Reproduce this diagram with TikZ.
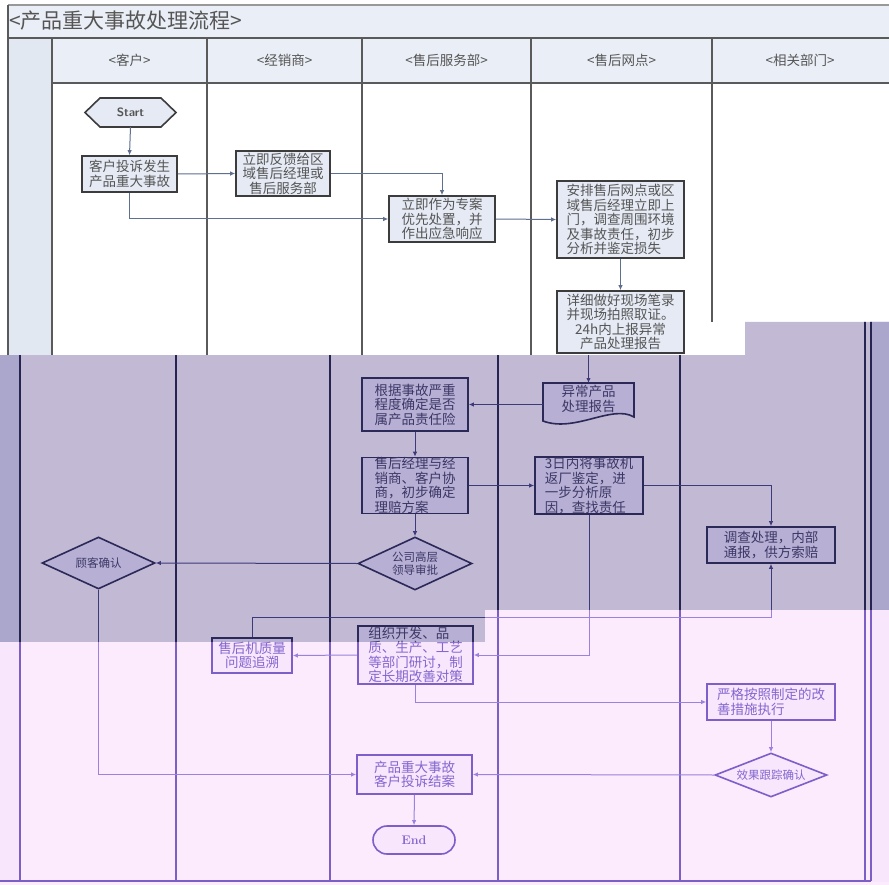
\documentclass[tikz,border=0pt]{standalone}
\usepackage{fontspec}
\newfontfamily\cjk{Noto Sans CJK SC}
\usetikzlibrary{shapes.geometric,arrows.meta}
% upper (original) colours
\definecolor{hdrfill}{HTML}{EAEEF6}
\definecolor{colfill}{HTML}{E2E8F2}
\definecolor{upframe}{HTML}{5A5A5A}
\definecolor{upnodec}{HTML}{3C3C3C}
\definecolor{upnodef}{HTML}{E5EAF4}
\definecolor{upconnc}{HTML}{5E6F8F}
\definecolor{uptextc}{HTML}{555555}
% purple band colours
\definecolor{pbg}{HTML}{C2B9D4}
\definecolor{pcol}{HTML}{ABA6CB}
\definecolor{planec}{HTML}{262450}
\definecolor{pnodec}{HTML}{2B2957}
\definecolor{pnodef}{HTML}{B7B0D4}
\definecolor{pconnc}{HTML}{3D3A7A}
\definecolor{ptextc}{HTML}{3B3766}
% pink band colours
\definecolor{kbg}{HTML}{FCEBFD}
\definecolor{kcol}{HTML}{F8E6FC}
\definecolor{klanec}{HTML}{7B5FC6}
\definecolor{knodec}{HTML}{7C5FC9}
\definecolor{knodef}{HTML}{F7E6FC}
\definecolor{kconnc}{HTML}{9B82E0}
\definecolor{ktextc}{HTML}{8466CF}
\colorlet{nodec}{upnodec}
\colorlet{nodef}{upnodef}
\colorlet{connc}{upconnc}
\colorlet{textc}{uptextc}
\colorlet{lanec}{upframe}
\colorlet{colc}{colfill}
\tikzset{
  box/.style={draw=nodec, fill=nodef, line width=1.6pt, text=textc,
    font=\cjk\fontsize{13.5}{14.5}\selectfont, align=center, inner sep=0pt},
  boxl/.style={box, align=left},
  dia/.style={diamond, draw=nodec, fill=nodef, line width=1.6pt, inner sep=0pt},
  diatext/.style={text=textc, font=\cjk\fontsize{11.5}{13.5}\selectfont, align=center},
  conn/.style={draw=connc, line width=1pt, -{Latex[length=5pt,width=4.5pt]}},
  plain/.style={draw=connc, line width=1pt},
  lane/.style={draw=lanec, line width=2pt},
  hdr/.style={text=uptextc, font=\cjk\fontsize{13.5}{15}\selectfont},
}
\newcommand\lowerpart{%
  \fill[colc] (0,300) rectangle (20,882);
  \fill[colc] (871,300) rectangle (889,882);
  \foreach \xx in {20,176,330,498,680,865,871} {\draw[lane] (\xx,300) -- (\xx,881);}
  \draw[lane] (0,881) -- (871,881);
  % document shape
  \draw[draw=nodec, fill=nodef, line width=1.6pt] (543,383) -- (634,383) -- (634,417)
     .. controls (612,404) and (575,433) .. (543,421) -- cycle;
  \node[text=textc, font=\cjk\fontsize{13.5}{14.5}\selectfont, align=center,
        minimum width=91, minimum height=36, inner sep=0pt] (doc) at (588.5,399) {异常产品\\处理报告};
  \node[box, minimum width=106, minimum height=53] (b1) at (415,404.5) {根据事故严重\\程度确定是否\\属产品责任险};
  \node[boxl, minimum width=106, minimum height=55] (b2) at (415,485.5) {售后经理与经\\销商、客户协\\商，初步确定\\理赔方案};
  \node[boxl, minimum width=108, minimum height=57] (b3) at (589,485.5) {3日内将事故机\\返厂鉴定，进\\一步分析原\\因，查找责任};
  \node[box, minimum width=128, minimum height=36] (r1) at (771,545) {调查处理，内部\\通报，供方索赔};
  \node[dia, minimum width=114, minimum height=53, label={[diatext]center:{公司高层\\领导审批}}] (q1) at (415,563.5) {};
  \node[dia, minimum width=113, minimum height=52, label={[diatext]center:{顾客确认}}] (q2) at (98.5,563) {};
  \node[box, minimum width=80, minimum height=35] (b4) at (252,655.5) {售后机质量\\问题追溯};
  \node[boxl, minimum width=115, minimum height=58] (b5) at (415.5,655) {组织开发、品\\质、生产、工艺\\等部门研讨，制\\定长期改善对策};
  \node[boxl, minimum width=128, minimum height=36] (b6) at (771,702) {严格按照制定的改\\善措施执行};
  \node[dia, minimum width=112, minimum height=44, label={[diatext]center:{效果跟踪确认}}] (q3) at (771,775) {};
  \node[box, minimum width=115, minimum height=39] (b7) at (414.5,774.5) {产品重大事故\\客户投诉结案};
  \node[draw=nodec, fill=nodef, line width=1.6pt, rounded corners=14pt, minimum width=82,
        minimum height=28, inner sep=0pt, text=textc, font=\bfseries\fontsize{12.5}{14}\selectfont] (endn) at (414,840) {End};
  % connectors
  \coordinate (dtop) at (588.5,350);
  \coordinate (w1) at (252,617);
  \draw[conn] (dtop) -- (doc.north |- 0,383);
  \draw[conn] (doc.west |- b1.east) -- (b1.east);
  \draw[conn] (b1.south) -- (b2.north);
  \draw[conn] (b2.east) -- (b3.west);
  \draw[conn] (b3.east) -| (r1.north);
  \draw[conn] (b2.south) -- (q1.north);
  \draw[conn] (q1.west) -- (q2.east);
  \draw[conn] (q2.south) |- (b7.west);
  \draw[conn] (b3.south) |- (b5.east);
  \draw[conn] (b5.west) -- (b4.east);
  \draw[conn] (b4.north) -- (w1) -| (r1.south);
  \draw[conn] (b5.south) |- (b6.west);
  \draw[conn] (b6.south) -- (q3.north);
  \draw[conn] (q3.west) -- (b7.east);
  \draw[conn] (b7.south) -- (endn.north);
}
\begin{document}
\begin{tikzpicture}[x=1pt,y=-1pt]
\useasboundingbox (0,0) rectangle (889,885);
\fill[white] (0,0) rectangle (889,885);
% ---------------- upper (undamaged) part ----------------
\begin{scope}
\clip (0,0) -- (889,0) -- (889,322) -- (745,322) -- (745,355) -- (0,355) -- cycle;
\fill[hdrfill] (8,5) rectangle (889,83);
\fill[colfill] (8,38) rectangle (52,360);
\draw[lane, line width=1.6pt, draw=gray!80] (8,5) -- (889,5);
\draw[lane] (8,5) -- (8,360);
\draw[lane] (8,38) -- (889,38);
\draw[lane] (52,83) -- (889,83);
\foreach \xx in {52,207,362,531} {\draw[lane] (\xx,38) -- (\xx,360);}
\draw[lane] (712,38) -- (712,322);
\node[anchor=west, text=uptextc, font=\cjk\fontsize{21}{23}\selectfont, inner sep=0pt] (title) at (9,21) {<产品重大事故处理流程>};
\node[hdr] (h1) at (129.5,60.5) {<客户>};
\node[hdr] (h2) at (284.5,60.5) {<经销商>};
\node[hdr] (h3) at (446.5,60.5) {<售后服务部>};
\node[hdr] (h4) at (621.5,60.5) {<售后网点>};
\node[hdr] (h5) at (800,60.5) {<相关部门>};
% start terminal (hexagon)
\draw[draw=nodec, fill=nodef, line width=1.6pt] (85,112.5) -- (100,98) -- (161,98) -- (176,112.5) -- (161,127) -- (100,127) -- cycle;
\node[minimum width=91, minimum height=29, inner sep=0pt, text=textc, font=\sffamily\bfseries\fontsize{12}{13}\selectfont] (start) at (130.5,112.5) {Start};
\node[box, minimum width=95, minimum height=36] (c1) at (129.5,174) {客户投诉发生\\产品重大事故};
\node[box, minimum width=94, minimum height=45] (d1) at (283,173.5) {立即反馈给区\\域售后经理或\\售后服务部};
\node[box, minimum width=106, minimum height=46] (s1) at (442,219) {立即作为专案\\优先处置，并\\作出应急响应};
\node[boxl, minimum width=127, minimum height=77] (n1) at (620.5,219.5) {安排售后网点或区\\域售后经理立即上\\门，调查周围环境\\及事故责任，初步\\分析并鉴定损失};
\node[box, minimum width=127, minimum height=62] (n2) at (620.5,322) {详细做好现场笔录\\并现场拍照取证。\\24h内上报异常\\产品处理报告};
\draw[conn] (start.south) -- (c1.north);
\draw[conn] (c1.east) -- (d1.west);
\draw[conn] (d1.east) -| (s1.north);
\draw[conn] (c1.south) |- (s1.west);
\draw[conn] (s1.east) -- (n1.west);
\draw[conn] (n1.south) -- (n2.north);
\end{scope}
% ---------------- purple band ----------------
\begin{scope}
\clip (0,355) -- (745,355) -- (745,322) -- (889,322) -- (889,610) -- (485,610) -- (485,642) -- (0,642) -- cycle;
\fill[pbg] (0,300) rectangle (889,885);
\colorlet{nodec}{pnodec}\colorlet{nodef}{pnodef}\colorlet{connc}{pconnc}
\colorlet{textc}{ptextc}\colorlet{lanec}{planec}\colorlet{colc}{pcol}
\lowerpart
\end{scope}
% ---------------- pink band ----------------
\begin{scope}
\clip (0,642) -- (485,642) -- (485,610) -- (889,610) -- (889,885) -- (0,885) -- cycle;
\fill[kbg] (0,300) rectangle (889,885);
\colorlet{nodec}{knodec}\colorlet{nodef}{knodef}\colorlet{connc}{kconnc}
\colorlet{textc}{ktextc}\colorlet{lanec}{klanec}\colorlet{colc}{kcol}
\lowerpart
\end{scope}
\end{tikzpicture}
\end{document}
